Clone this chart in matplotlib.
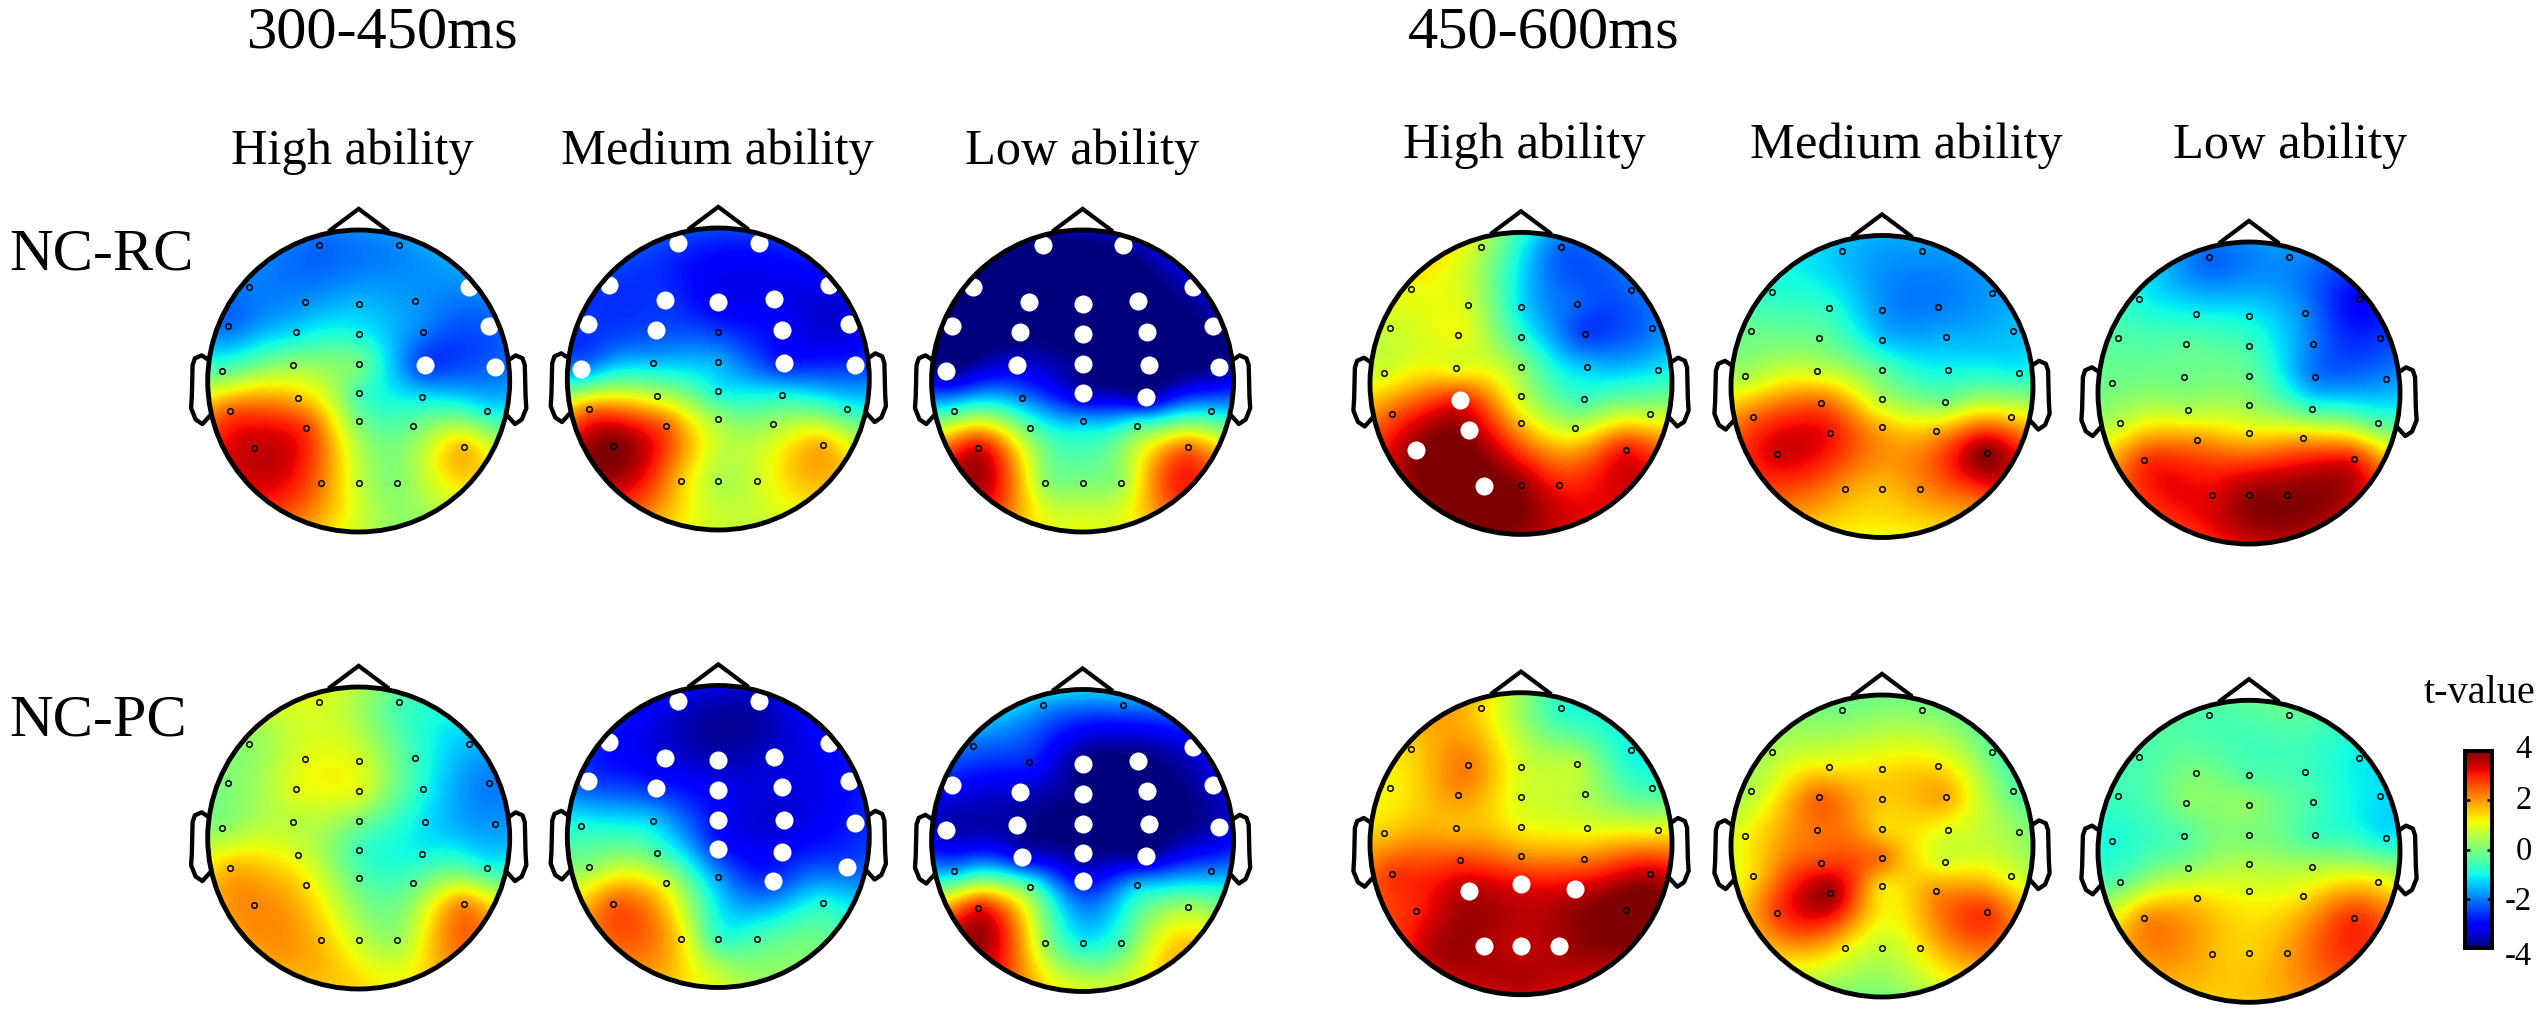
import numpy as np
import matplotlib
matplotlib.use("Agg")
import matplotlib.pyplot as plt
from matplotlib.patches import Circle
from matplotlib.transforms import ScaledTranslation

plt.rcParams['font.family'] = ['Liberation Serif', 'DejaVu Serif']

W, H = 2542, 1014
R = 151.0

# electrode layout (unit head circle), plus three rim anchors
names = ['Fp1','Fp2','F7','F3','Fz','F4','F8','FT7','FC3','FCz','FC4','FT8',
         'T3','C3','Cz','C4','T4','TP7','CP3','CPz','CP4','TP8',
         'P3','Pz','P4','T5','O1','Oz','O2','T6']
ex = [-.265,.267,-.726,-.353,0,.37,.73,-.865,-.415,0,.424,.865,
      -.907,-.433,0,.437,.905,-.854,-.404,0,.42,.852,
      -.347,0,.36,-.695,-.247,0,.254,.695]
ey = [.90,.90,.625,.52,.507,.527,.62,.366,.322,.309,.327,.366,
      .068,.104,.11,.106,.09,-.2,-.11,-.082,-.104,-.2,
      -.311,-.265,-.298,-.444,-.678,-.676,-.676,-.44]
rim_x = [-.6, 0, .6]
rim_y = [-.75, -.97, -.75]

# t-values: electrodes in the order of names, then three rim anchors
rc_300_high = [-2.2,-1.9, -2,-1.8,-1.5,-1.8,-1.9, -2.1,-1.2,-1.0,-2,-2.3,
               -.3,.3,-.1,-2.5,-2.2, 2.5,1.6,-.5,-1.2,-1.0, 2.7,0,-.2, 3.5,2.2,.7,.1,1.6, 3.2,.8,1.0]
rc_300_med = [-2.6,-2.8, -2.6,-2.6,-3.1,-3.2,-3.2, -2.6,-2.4,-2.5,-3,-3.4,
              -1.9,-1.4,-1.6,-2.8,-2.6, 2.2,.6,-1,-1,-.8, 2.4,.3,.3, 4,1.6,.5,.8,1.7, 3.2,.8,1.5]
rc_300_low = [-4.2,-3.9, -4.2,-4.2,-4.2,-4.2,-3.6, -4.1,-4.1,-4.2,-4.2,-3.9,
              -3.9,-3.3,-3.9,-4.2,-3.9, -.6,-2,-3.6,-3.8,-1.3, -.4,-1.6,-.6, 3.2,.2,0,.3,2.2, 3.2,1,2.8]
rc_450_high = [.5,-2.2, 1.1,.8,-1.2,-2.2,-2.2, .8,1.1,-.7,-2.5,-2.1,
               .9,1.0,.2,-1.4,-1.2, 2.5,3.0,.7,-.6,.6, 3.7,1.6,.7, 3.9,4.2,3.8,3,3.0, 4,3.9,3.3]
rc_450_med = [-1.5,-1.8, -.8,-.8,-1.8,-2,-1.8, -.2,-.2,-1.4,-1.6,-1.5,
              .5,.7,-.3,-1,-1, 2.4,2.4,.5,0,1.4, 3.1,1.7,1.7, 3.4,2,1.7,2.1,3.9, 2.4,1.2,2.4]
rc_450_low = [-2.2,-1.9, -1,-1,-1.1,-1.9,-3, -.4,-.3,-.6,-2,-2.6,
              -.1,-.1,-.2,-2,-1.9, .7,.5,.3,-.6,-.3, 2,1.3,1.7, 2.8,3.3,3.8,3.9,3, 3,3.5,3.7]
pc_300_high = [.9,-.5, .2,1.0,.9,-.6,-1.5, .1,1,.9,-.9,-2,
               .2,.6,0,-1.2,-1.8, 1.7,.9,-.6,-1,-.8, 1.3,-.3,-.3, 2.1,1.6,.7,.3,2.0, 2,1.4,2.1]
pc_300_med = [-3.3,-3.6, -2.9,-3.3,-3.6,-3.4,-3, -2.5,-2.7,-3.1,-3.3,-3,
              -.9,-1.4,-3,-3.4,-2.8, .2,-.5,-2.7,-3,-2.4, .8,-1.8,-2.6, 2.4,1.3,-.7,-.6,-1.0, 2.4,.8,0]
pc_300_low = [-1.8,-2.1, -2.2,-2.8,-4,-4.1,-3.3, -3,-3.5,-4,-4.1,-3.5,
              -3.6,-3.8,-4.2,-4.2,-3.6, -1.6,-3.2,-3.9,-3.8,-2, -.4,-3,-1.5, 3,.2,-1.1,-.5,.3, 3.4,.8,1.6]
pc_450_high = [1.4,-.8, 1.5,2.2,.9,.6,-1, 1.2,2,.9,.5,-.6,
               1.6,1.7,1.2,1,1.1, 2.8,2.7,2.1,2.2,3.5, 3.6,3.2,3.4, 3.0,3.7,3.5,3.7,4.2, 3.6,3.6,3.8]
pc_450_med = [0,.1, .5,1.3,1.4,1.4,-.2, .6,2.4,1.6,1.8,-.2,
              1.2,2.3,1.5,1.0,.3, 1.5,2.7,2.3,.9,1, 3.8,1.4,2.0, 2.8,1.3,.7,1.3,2.8, 1.5,.1,2.0]
pc_450_low = [-.5,-.3, -.5,0,-.4,-.6,-1.1, -.6,.1,.2,-.5,-1.2,
              -.9,-.4,0,-.6,-1.1, -.3,.2,.5,.5,1.2, 1.4,1,1.3, 2.0,1.7,1.5,1.9,2.8, 2.0,1.6,2.7]

# significant electrodes (white dots)
sig_rc_300_high = ['F8','FT8','C4','T4']
sig_rc_300_med = ['Fp1','Fp2','F7','F3','Fz','F4','F8','FT7','FC3','FC4','FT8','T3','C4','T4']
sig_rc_300_low = ['Fp1','Fp2','F7','F3','Fz','F4','F8','FT7','FC3','FCz','FC4','FT8',
                  'T3','C3','Cz','C4','T4','CPz','CP4']
sig_rc_450_high = ['CP3','P3','T5','O1']
sig_pc_300_med = ['Fp1','Fp2','F7','F3','Fz','F4','F8','FT7','FC3','FCz','FC4','FT8',
                  'Cz','C4','T4','CPz','CP4','TP8','P4']
sig_pc_300_low = ['F8','Fz','F4','FT7','FC3','FCz','FC4','FT8','T3','C3','Cz','C4','T4',
                  'CP3','CPz','CP4','Pz']
sig_pc_450_high = ['P3','Pz','P4','O1','Oz','O2']

col_titles = ['High ability', 'Medium ability', 'Low ability']
cbar_ticks = [-4, -2, 0, 2, 4]
cbar_labels = ['-4', '-2', '0', '2', '4']

panels = [
    (358.7, 381.0, rc_300_high, sig_rc_300_high),
    (718.3, 379.0, rc_300_med, sig_rc_300_med),
    (1082.6, 381.0, rc_300_low, sig_rc_300_low),
    (1521.0, 383.4, rc_450_high, sig_rc_450_high),
    (1882.0, 386.5, rc_450_med, []),
    (2249.0, 393.0, rc_450_low, []),
    (358.7, 838.0, pc_300_high, []),
    (718.3, 836.5, pc_300_med, sig_pc_300_med),
    (1082.6, 840.5, pc_300_low, sig_pc_300_low),
    (1521.0, 843.7, pc_450_high, sig_pc_450_high),
    (1882.0, 846.0, pc_450_med, []),
    (2249.0, 851.3, pc_450_low, []),
]

nose = np.array([[-.19, .998], [0, 1.14], [.19, .998]])
ear = np.array([[-.995, .14], [-1.04, .17], [-1.085, .15], [-1.10, .105], [-1.105, -.1],
                [-1.11, -.18], [-1.08, -.255], [-1.035, -.285], [-.99, -.235]])

px, py = np.array(ex + rim_x), np.array(ey + rim_y)


def field(vals, n=67):
    """Biharmonic spline surface through the electrode values, as in a scalp map."""
    def green(d):
        with np.errstate(divide='ignore', invalid='ignore'):
            g = d**2 * (np.log(d) - 1)
        return np.nan_to_num(g)
    d = np.hypot(px[:, None] - px[None, :], py[:, None] - py[None, :])
    w = np.linalg.solve(green(d), np.asarray(vals, float))
    gx, gy = np.meshgrid(np.linspace(-1, 1, n), np.linspace(-1, 1, n))
    dd = np.hypot(gx[..., None] - px, gy[..., None] - py)
    return green(dd) @ w


fig = plt.figure(figsize=(W / 100, H / 100), dpi=100, facecolor='white')
LW = 3.5

for cx, cy, vals, sig in panels:
    s = 1.25 * R
    ax = fig.add_axes([(cx - s) / W, 1 - (cy + s) / H, 2 * s / W, 2 * s / H])
    ax.axis('off')
    im = ax.imshow(field(vals), extent=(-1, 1, -1, 1), origin='lower', cmap='jet',
                   vmin=-4, vmax=4, interpolation='bilinear', zorder=1)
    im.set_clip_path(Circle((0, 0), 1, transform=ax.transData))
    ax.set_xlim(-1.25, 1.25)
    ax.set_ylim(-1.25, 1.25)
    is_sig = np.array([n in sig for n in names])
    ax.plot(np.array(ex)[~is_sig], np.array(ey)[~is_sig], ls='none', marker='o', ms=4.0,
            mfc='none', mec='black', mew=1.1, zorder=4)
    ax.plot(np.array(ex)[is_sig], np.array(ey)[is_sig], ls='none', marker='o', ms=13,
            mfc='white', mec='none', zorder=3)
    ax.add_patch(Circle((0, 0), 1, fill=False, ec='black', lw=LW, zorder=5))
    ax.plot(nose[:, 0], nose[:, 1], color='black', lw=LW - .5, solid_joinstyle='miter', zorder=5)
    ax.plot(ear[:, 0], ear[:, 1], color='black', lw=LW - .4, solid_joinstyle='round', zorder=5)
    ax.plot(-ear[:, 0], ear[:, 1], color='black', lw=LW - .4, solid_joinstyle='round', zorder=5)


def label(x, y, s, size, ha='center'):
    fig.text(x / W, 1 - y / H, s, fontsize=size, ha=ha, va='baseline', color='black')


label(382.6, 48, '300-450ms', 43.5)
label(1544, 48, '450-600ms', 43.5)
for x, t in zip([352, 717, 1082], col_titles):
    label(x, 163.6, t, 36.4)
for x, t in zip([1524, 1906, 2290], col_titles):
    label(x, 157.7, t, 36.4)
label(9, 270, 'NC-RC', 43.5, ha='left')
label(9, 735, 'NC-PC', 43.5, ha='left')
label(2479, 703, 't-value', 29)

# colour bar
cax = fig.add_axes([2464.5 / W, 1 - 948 / H, 27 / W, 197 / H])
grad = np.linspace(-4, 4, 256)[:, None]
cax.imshow(grad, origin='lower', extent=(0, 1, -4, 4), aspect='auto', cmap='jet', vmin=-4, vmax=4)
cax.set_xticks([])
cax.set_yticks(cbar_ticks)
cax.set_yticklabels(cbar_labels, fontsize=23.5)
for sp in cax.spines.values():
    sp.set_linewidth(2.8)
cax.yaxis.tick_right()
cax.tick_params(axis='y', direction='in', left=True, right=True, labelleft=False, labelright=True,
                length=3.8, width=1.8)
for lab, dy in zip(cax.get_yticklabels(), [-5, 1, 1, 3, 5]):
    lab.set_ha('right')
    lab.set_transform(lab.get_transform() + ScaledTranslation(.355, dy / 100, fig.dpi_scale_trans))

fig.savefig('out.png', dpi=100, facecolor='white')
